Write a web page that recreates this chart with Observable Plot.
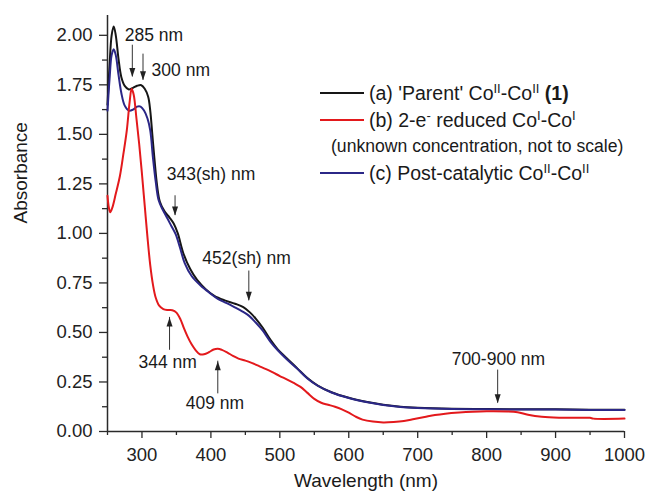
<!DOCTYPE html>
<html><head><meta charset="utf-8">
<script src="https://cdn.jsdelivr.net/npm/d3@7"></script>
<script src="https://cdn.jsdelivr.net/npm/@observablehq/plot@0.6"></script>
<style>html,body{margin:0;padding:0;background:#fff} svg{display:block}</style>
</head><body><div id="chart"></div>
<script>
// (a) 'Parent' CoII-CoII (1)
const wlA  = [250,253,256,259,262,266,270,275,281,287,293,299,304,309,312,315,318,322,326,333,340,346,352,360,370,380,392,405,420,435,447,457,465,475,487,497,510,525,540,555,575,600,625,650,675,700,750,800,850,900,950,1000];
const absA = [1.65,1.85,2.00,2.045,2.00,1.88,1.79,1.745,1.727,1.735,1.745,1.748,1.73,1.69,1.62,1.50,1.38,1.24,1.16,1.11,1.08,1.05,1.00,0.90,0.82,0.765,0.72,0.685,0.662,0.645,0.628,0.60,0.57,0.525,0.46,0.415,0.37,0.32,0.27,0.232,0.198,0.17,0.15,0.135,0.125,0.12,0.115,0.113,0.112,0.112,0.11,0.11];
// (b) 2-e- reduced CoI-CoI
const wlB  = [250,252,254,257,262,268,273,278,282,285,288,292,296,300,304,308,312,316,320,325,331,337,344,350,356,361,366,372,378,384,390,397,404,410,416,424,432,440,450,460,470,480,490,500,510,520,530,540,550,560,570,580,590,600,610,620,635,650,665,680,695,710,725,740,760,780,800,830,845,860,880,905,930,950,955,1000];
const absB = [1.19,1.13,1.107,1.13,1.20,1.29,1.40,1.52,1.66,1.73,1.70,1.58,1.45,1.30,1.14,0.98,0.84,0.74,0.675,0.635,0.618,0.613,0.612,0.60,0.565,0.52,0.48,0.44,0.41,0.39,0.39,0.40,0.414,0.418,0.412,0.398,0.382,0.368,0.358,0.345,0.33,0.315,0.298,0.28,0.263,0.245,0.225,0.195,0.165,0.145,0.135,0.125,0.112,0.095,0.075,0.06,0.05,0.046,0.048,0.053,0.063,0.073,0.083,0.09,0.096,0.10,0.102,0.101,0.097,0.085,0.075,0.07,0.069,0.069,0.065,0.065];
// (c) Post-catalytic CoII-CoII
const wlC  = [250,253,256,259,262,266,270,275,281,287,293,298,303,308,312,316,320,324,330,337,343,349,355,362,372,385,398,410,423,434,446,455,465,475,487,497,510,525,540,555,575,600,625,650,675,700,750,800,850,900,950,1000];
const absC = [1.62,1.78,1.90,1.93,1.90,1.80,1.71,1.645,1.62,1.625,1.64,1.64,1.62,1.58,1.52,1.38,1.26,1.17,1.12,1.075,1.035,0.995,0.93,0.85,0.785,0.737,0.70,0.67,0.648,0.628,0.605,0.585,0.55,0.51,0.45,0.41,0.365,0.318,0.268,0.231,0.197,0.169,0.149,0.134,0.124,0.119,0.114,0.112,0.111,0.111,0.109,0.109];

const seriesKeys   = ["a","c","b"];
const seriesColors = {a:"#161616", b:"#e3191c", c:"#2b2787"};
const seriesWl  = {a: wlA, b: wlB, c: wlC};
const seriesAbs = {a: absA, b: absB, c: absC};

// annotations
const noteLabels = ["285 nm","300 nm","343(sh) nm","452(sh) nm","344 nm","409 nm","700-900 nm"];
const noteArrowX = [286, 301.5, 348, 455, 340, 410, 816];
const noteFrom   = [1.95, 1.905, 1.19, 0.81, 0.41, 0.19, 0.31];
const noteTo     = [1.79, 1.773, 1.09, 0.66, 0.576, 0.355, 0.143];
const noteTextX  = [275, 314, 336, 387.6, 295, 363.4, 817];
const noteTextY  = [2.0, 1.823, 1.30, 0.874, 0.351, 0.141, 0.364];
const noteAnchor = ["start","start","start","start","start","start","middle"];

// ticks
const xMajor = [300,400,500,600,700,800,900,1000];
const xMinor = [250,350,450,550,650,750,850,950];
const yMajor = [0,0.25,0.5,0.75,1.0,1.25,1.5,1.75,2.0];
const yMinor = [0.125,0.375,0.625,0.875,1.125,1.375,1.625,1.875];

const rows = seriesKeys.flatMap(k => seriesWl[k].map((w,i) => ({s:k, w, a: seriesAbs[k][i]})));
const notes = noteLabels.map((t,i) => ({t, x: noteArrowX[i], y1: noteFrom[i], y2: noteTo[i], tx: noteTextX[i], ty: noteTextY[i], anchor: noteAnchor[i], down: noteTo[i] < noteFrom[i]}));

const headDown = {draw(ctx){ ctx.moveTo(0,0); ctx.lineTo(-3,-9); ctx.lineTo(3,-9); ctx.closePath(); }};
const headUp   = {draw(ctx){ ctx.moveTo(0,0); ctx.lineTo(-3,9); ctx.lineTo(3,9); ctx.closePath(); }};

const FONT = "Liberation Sans, Arial, Helvetica, sans-serif";
const axisColor = "#2a2a2a";

const plot = Plot.plot({
  width: 646, height: 497,
  marginLeft: 107, marginRight: 22, marginTop: 15, marginBottom: 66,
  style: {fontFamily: FONT, fontSize: "18px", color: "#222", background: "#fff"},
  x: {domain: [250, 1000]},
  y: {domain: [0, 2.1]},
  marks: [
    Plot.axisY(yMajor, {tickSize: 8, tickPadding: 7, tickFormat: d3.format(".2f"), fontSize: 18.5, label: null, stroke: axisColor, strokeWidth: 1.3}),
    Plot.axisY(yMinor, {tickSize: 5, text: null, label: null, stroke: axisColor, strokeWidth: 1.3}),
    Plot.axisX(xMajor, {tickSize: 7, tickPadding: 9, tickFormat: d => String(d), fontSize: 18.5, label: null, stroke: axisColor, strokeWidth: 1.3}),
    Plot.axisX(xMinor, {tickSize: 4, text: null, label: null, stroke: axisColor, strokeWidth: 1.3}),
    Plot.ruleX([250], {stroke: axisColor, strokeWidth: 1.5}),
    Plot.ruleY([0], {stroke: axisColor, strokeWidth: 1.5}),
    Plot.line(rows, {x: "w", y: "a", z: "s", stroke: d => seriesColors[d.s], strokeWidth: 2, curve: "catmull-rom"}),
    Plot.ruleX(notes, {x: "x", y1: "y1", y2: "y2", stroke: "#333", strokeWidth: 1}),
    Plot.dot(notes.filter(d => d.down), {x: "x", y: "y2", symbol: headDown, fill: "#222", stroke: "none", r: 3}),
    Plot.dot(notes.filter(d => !d.down), {x: "x", y: "y2", symbol: headUp, fill: "#222", stroke: "none", r: 3}),
    Plot.text(notes.filter(d => d.anchor === "start"), {x: "tx", y: "ty", text: "t", textAnchor: "start", fontSize: 17.5, fill: "#1a1a1a"}),
    Plot.text(notes.filter(d => d.anchor === "middle"), {x: "tx", y: "ty", text: "t", textAnchor: "middle", fontSize: 17.5, fill: "#1a1a1a"}),
    Plot.text(["Absorbance"], {frameAnchor: "left", dx: -87, rotate: -90, fontSize: 19, fill: "#1a1a1a"}),
    Plot.text(["Wavelength (nm)"], {frameAnchor: "bottom", dy: 55, fontSize: 19, fill: "#1a1a1a"})
  ]
});

// legend
const svg = d3.select(plot);
const lg = svg.append("g").attr("font-family", FONT).attr("font-size", 19.5).attr("fill", "#1a1a1a").attr("text-anchor", "start");
const legendRows = [
  {color: seriesColors.a, y: 93,  parts: [["(a) 'Parent' Co"],["II","sup"],["-Co"],["II","sup"],[" (1)","bold"]]},
  {color: seriesColors.b, y: 120, parts: [["(b) 2-e"],["-","sup"],[" reduced Co"],["I","sup"],["-Co"],["I","sup"]]},
  {color: null, y: 146, x: 331, size: 17.6, parts: [["(unknown concentration, not to scale)"]]},
  {color: seriesColors.c, y: 173, parts: [["(c) Post-catalytic Co"],["II","sup"],["-Co"],["II","sup"]]}
];
for (const r of legendRows) {
  if (r.color) lg.append("line").attr("x1", 320).attr("x2", 364).attr("y1", r.y).attr("y2", r.y).attr("stroke", r.color).attr("stroke-width", 2);
  const t = lg.append("text").attr("x", r.x ?? 369).attr("y", r.y).attr("dy", "0.35em").attr("text-anchor", "start");
  if (r.size) t.attr("font-size", r.size);
  for (const [s, kind] of r.parts) {
    const ts = t.append("tspan").text(s);
    if (kind === "sup") ts.attr("font-size", 13).attr("baseline-shift", "super");
    if (kind === "bold") ts.attr("font-weight", "bold");
  }
}
document.getElementById("chart").appendChild(plot);
</script>
</body></html>
